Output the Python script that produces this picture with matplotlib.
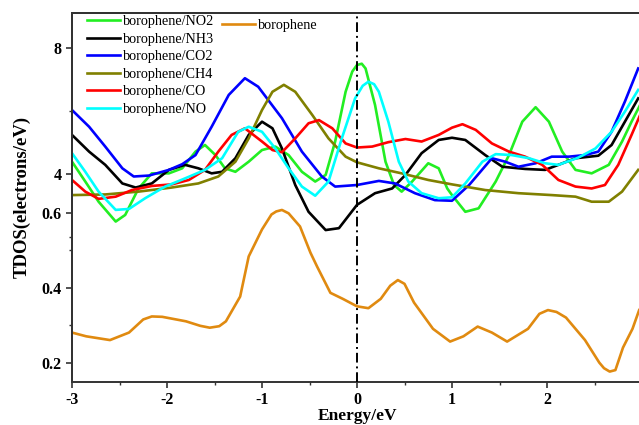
import matplotlib
matplotlib.use("Agg")
import matplotlib.pyplot as plt
from matplotlib.ticker import MultipleLocator, FixedLocator

plt.rcParams['font.family'] = ['Liberation Serif', 'DejaVu Serif']

# borophene + adsorbed gas TDOS (upper scale)
e_no2 = [-3, -2.86, -2.72, -2.54, -2.44, -2.30, -2.16, -1.98, -1.84, -1.70, -1.60, -1.49, -1.39, -1.28, -1.14,
         -1.0, -0.86, -0.72, -0.58, -0.44, -0.33, -0.23, -0.12, -0.05, 0, 0.05, 0.09, 0.19, 0.30, 0.39, 0.47,
         0.58, 0.75, 0.86, 0.95, 1.0, 1.14, 1.28, 1.46, 1.60, 1.74, 1.88, 2.02, 2.16, 2.30, 2.47, 2.65, 2.79,
         2.89, 2.98]
v_no2 = [4.39, 3.76, 3.12, 2.49, 2.70, 3.54, 4.02, 4.02, 4.18, 4.71, 4.92, 4.60, 4.18, 4.07, 4.39,
         4.76, 4.87, 4.60, 4.07, 3.76, 3.97, 5.03, 6.61, 7.25, 7.46, 7.50, 7.35, 6.19, 4.39, 3.65, 3.44,
         3.76, 4.34, 4.18, 3.54, 3.33, 2.80, 2.91, 3.76, 4.60, 5.66, 6.12, 5.66, 4.71, 4.13, 4.02, 4.29, 5.03,
         5.66, 6.19]

e_nh3 = [-3, -2.82, -2.65, -2.47, -2.33, -2.16, -1.98, -1.81, -1.67, -1.53, -1.42, -1.28, -1.14, -1.0,
         -0.89, -0.79, -0.65, -0.51, -0.33, -0.19, 0, 0.19, 0.37, 0.51, 0.68, 0.86, 1.0, 1.14, 1.35, 1.53,
         1.77, 1.98, 2.12, 2.30, 2.54, 2.68, 2.82, 2.96]
v_nh3 = [5.24, 4.71, 4.29, 3.70, 3.57, 3.70, 4.13, 4.29, 4.18, 4.02, 4.07, 4.50, 5.24, 5.66,
         5.45, 4.81, 3.65, 2.80, 2.22, 2.28, 3.02, 3.39, 3.54, 3.97, 4.66, 5.08, 5.15, 5.08, 4.60, 4.23,
         4.16, 4.13, 4.29, 4.50, 4.58, 4.92, 5.66, 6.40]

e_co2 = [-3, -2.82, -2.65, -2.47, -2.35, -2.19, -1.98, -1.84, -1.70, -1.53, -1.35, -1.18, -1.04,
         -0.79, -0.58, -0.37, -0.23, 0, 0.23, 0.40, 0.61, 0.82, 1.0, 1.18, 1.42, 1.56, 1.70, 1.88, 2.05,
         2.23, 2.40, 2.54, 2.68, 2.82, 2.96]
v_co2 = [6.03, 5.50, 4.87, 4.18, 3.92, 3.95, 4.13, 4.31, 4.60, 5.50, 6.51, 7.04, 6.77,
         5.77, 4.71, 3.92, 3.60, 3.65, 3.78, 3.70, 3.39, 3.17, 3.15, 3.65, 4.50, 4.39, 4.23, 4.34, 4.55,
         4.55, 4.60, 4.71, 5.34, 6.30, 7.35]

e_ch4 = [-3, -2.65, -2.30, -1.95, -1.67, -1.46, -1.28, -1.14, -1.0, -0.89, -0.77, -0.65, -0.47, -0.30,
         -0.12, 0, 0.23, 0.47, 0.75, 1.0, 1.35, 1.70, 2.05, 2.30, 2.47, 2.65, 2.79, 2.96]
v_ch4 = [3.33, 3.35, 3.44, 3.57, 3.70, 3.92, 4.39, 5.13, 6.03, 6.61, 6.83, 6.61, 5.87, 5.13,
         4.55, 4.37, 4.18, 4.02, 3.81, 3.67, 3.49, 3.39, 3.33, 3.28, 3.12, 3.12, 3.44, 4.13]

e_co = [-3, -2.86, -2.72, -2.54, -2.37, -2.16, -1.95, -1.77, -1.60, -1.46, -1.32, -1.18, -1.0,
        -0.89, -0.79, -0.65, -0.51, -0.40, -0.26, -0.12, 0, 0.16, 0.33, 0.51, 0.68, 0.86, 1.0, 1.11,
        1.25, 1.42, 1.60, 1.77, 1.95, 2.12, 2.30, 2.47, 2.61, 2.75, 2.89, 2.98]
v_co = [3.81, 3.44, 3.21, 3.28, 3.49, 3.62, 3.67, 3.81, 4.13, 4.71, 5.24, 5.45, 5.03,
        4.76, 4.69, 5.13, 5.61, 5.71, 5.45, 4.97, 4.84, 4.87, 5.01, 5.11, 5.03, 5.24, 5.47, 5.58,
        5.40, 4.97, 4.71, 4.55, 4.29, 3.81, 3.60, 3.54, 3.65, 4.29, 5.24, 5.87]

e_no = [-3, -2.86, -2.72, -2.54, -2.40, -2.23, -2.02, -1.81, -1.60, -1.42, -1.25, -1.14, -1.0,
        -0.86, -0.72, -0.58, -0.44, -0.30, -0.16, -0.02, 0.06, 0.12, 0.18, 0.23, 0.33, 0.44, 0.54, 0.68,
        0.86, 1.0, 1.14, 1.32, 1.46, 1.63, 1.81, 1.98, 2.12, 2.33, 2.51, 2.68, 2.82, 2.96]
v_no = [4.66, 4.07, 3.44, 2.86, 2.89, 3.23, 3.60, 3.86, 4.13, 4.50, 5.34, 5.50, 5.34,
        4.81, 4.18, 3.60, 3.31, 3.76, 5.13, 6.40, 6.80, 6.93, 6.85, 6.61, 5.66, 4.39, 3.76, 3.39,
        3.23, 3.26, 3.70, 4.39, 4.63, 4.60, 4.50, 4.34, 4.29, 4.52, 4.81, 5.34, 5.98, 6.67]

# pristine borophene TDOS (lower scale)
e_bor = [-3, -2.85, -2.6, -2.4, -2.25, -2.16, -2.05, -1.8, -1.65, -1.55, -1.45, -1.38, -1.23, -1.14,
         -1.0, -0.9, -0.85, -0.79, -0.72, -0.6, -0.49, -0.42, -0.28, -0.15, 0, 0.12, 0.25, 0.35, 0.43,
         0.5, 0.6, 0.8, 0.98, 1.12, 1.27, 1.42, 1.58, 1.8, 1.92, 2.01, 2.1, 2.2, 2.4, 2.55, 2.6, 2.66,
         2.72, 2.8, 2.9, 2.97]
v_bor = [0.28, 0.27, 0.26, 0.28, 0.315, 0.323, 0.322, 0.31, 0.298, 0.293, 0.297, 0.31, 0.376, 0.483,
         0.555, 0.595, 0.603, 0.607, 0.598, 0.563, 0.493, 0.456, 0.386, 0.37, 0.35, 0.345, 0.37, 0.405,
         0.42, 0.41, 0.36, 0.29, 0.256, 0.27, 0.296, 0.28, 0.256, 0.29, 0.33, 0.34, 0.335, 0.32, 0.26,
         0.20, 0.185, 0.176, 0.18, 0.24, 0.29, 0.34]

series = [
    ("borophene/NO2", e_no2, v_no2, "#22EE22"),
    ("borophene/NH3", e_nh3, v_nh3, "black"),
    ("borophene/CO2", e_co2, v_co2, "#0000FF"),
    ("borophene/CH4", e_ch4, v_ch4, "#808000"),
    ("borophene/CO", e_co, v_co, "#FF0000"),
    ("borophene/NO", e_no, v_no, "#00FFFF"),
]

fig = plt.figure(figsize=(6.39, 4.25), dpi=100)
rect = [72 / 639, 43.3 / 425, 570 / 639, 369 / 425]
ax = fig.add_axes(rect)
ax2 = fig.add_axes(rect, sharex=ax, facecolor="none")

lw = 1.9
bor_line, = ax.plot(e_bor, v_bor, color="#E08A10", lw=lw, label="borophene")
ax.set_ylim(0.149, 1.133)
ax.set_xlim(-3, 3)

handles = []
for name, e, v, c in series:
    h, = ax2.plot(e, v, color=c, lw=lw, label=name)
    handles.append(h)
ax2.set_ylim(-2.594, 9.12)

ax2.axvline(0, color="black", lw=1.4, linestyle=(0, (5, 2, 1, 2)))

spine_c = "#333333"
for a in (ax, ax2):
    for s in a.spines.values():
        s.set_color(spine_c)
        s.set_linewidth(1.4)
    a.tick_params(direction="out", length=4, width=1.2, colors=spine_c, labelcolor="black",
                  labelsize=11.5)
    a.tick_params(which="minor", direction="out", length=2.5, width=1.0, colors=spine_c)
    a.spines["right"].set_visible(False)

ax.yaxis.set_major_locator(FixedLocator([0.2, 0.4, 0.6]))
ax.yaxis.set_minor_locator(FixedLocator([0.3, 0.5]))
ax.yaxis.set_major_formatter(plt.FuncFormatter(lambda v, p: f"{v:.1f}"))
ax.xaxis.set_major_locator(MultipleLocator(1))
ax.xaxis.set_minor_locator(MultipleLocator(0.5))
ax.xaxis.set_major_formatter(plt.FuncFormatter(lambda v, p: "" if v > 2.5 else f"{v:.0f}"))

ax2.yaxis.set_major_locator(FixedLocator([4, 8]))
ax2.yaxis.set_minor_locator(FixedLocator([2, 6]))
ax2.yaxis.set_major_formatter(plt.FuncFormatter(lambda v, p: f"{v:.0f}"))
ax2.tick_params(axis="x", which="both", bottom=False, labelbottom=False)
ax2.spines["bottom"].set_visible(False)

for lab in ax.get_xticklabels() + ax.get_yticklabels() + ax2.get_yticklabels():
    lab.set_fontweight("bold")

ax.set_xlabel("Energy/eV", fontsize=12.5, fontweight="bold", labelpad=0)
ax.set_ylabel("TDOS(electrons/eV)", fontsize=13.5, fontweight="bold", labelpad=8)

leg1 = ax2.legend(handles=handles, loc="upper left", bbox_to_anchor=(87 / 639, 1 - 15 / 425),
                  bbox_transform=fig.transFigure, frameon=False, fontsize=10.2, borderpad=0,
                  borderaxespad=0, handlelength=2.35, handletextpad=0.2, labelspacing=0.32)
ax2.add_artist(leg1)
ax2.legend(handles=[bor_line], loc="upper left", bbox_to_anchor=(222 / 639, 1 - 19 / 425),
           bbox_transform=fig.transFigure, frameon=False, fontsize=10.2, borderpad=0,
           borderaxespad=0, handlelength=2.35, handletextpad=0.2)

fig.savefig("out.png", dpi=100)
